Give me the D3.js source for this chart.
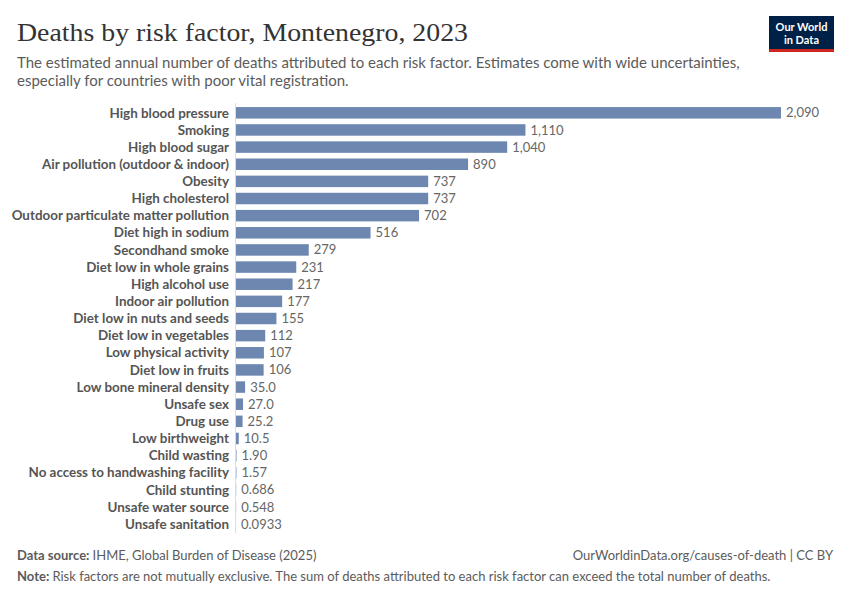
<!DOCTYPE html>
<html><head><meta charset="utf-8">
<script src="https://cdn.jsdelivr.net/npm/d3@7"></script>
<style>body{margin:0;background:#fff;} svg{display:block;}</style>
</head><body>
<script>
const categories = ["High blood pressure","Smoking","High blood sugar","Air pollution (outdoor & indoor)","Obesity","High cholesterol","Outdoor particulate matter pollution","Diet high in sodium","Secondhand smoke","Diet low in whole grains","High alcohol use","Indoor air pollution","Diet low in nuts and seeds","Diet low in vegetables","Low physical activity","Diet low in fruits","Low bone mineral density","Unsafe sex","Drug use","Low birthweight","Child wasting","No access to handwashing facility","Child stunting","Unsafe water source","Unsafe sanitation"];
const values = [2090,1110,1040,890,737,737,702,516,279,231,217,177,155,112,107,106,35.0,27.0,25.2,10.5,1.90,1.57,0.686,0.548,0.0933];
const valueLabels = ["2,090","1,110","1,040","890","737","737","702","516","279","231","217","177","155","112","107","106","35.0","27.0","25.2","10.5","1.90","1.57","0.686","0.548","0.0933"];

const W=850,H=600;
const svg=d3.select("body").append("svg").attr("width",W).attr("height",H);
const font="Lato, 'Noto Sans', sans-serif";

svg.append("text").attr("x",17).attr("y",41).text("Deaths by risk factor, Montenegro, 2023")
  .attr("font-family","'Liberation Serif', 'DejaVu Serif', serif").attr("font-size",25).attr("fill","#333")
  .attr("textLength",451).attr("lengthAdjust","spacingAndGlyphs");
const sub=["The estimated annual number of deaths attributed to each risk factor. Estimates come with wide uncertainties,","especially for countries with poor vital registration."];
sub.forEach((s,i)=>svg.append("text").attr("x",17).attr("y",68+i*18).text(s)
  .attr("font-family",font).attr("font-size",15).attr("fill","#5b5b5b"));

// logo
const lg=svg.append("g");
lg.append("rect").attr("x",769).attr("y",16).attr("width",65).attr("height",36).attr("fill","#002147");
lg.append("rect").attr("x",769).attr("y",49).attr("width",65).attr("height",3).attr("fill","#ce261e");
lg.append("text").attr("x",801.5).attr("y",30.5).attr("text-anchor","middle").text("Our World")
  .attr("font-family",font).attr("font-size",11).attr("fill","#fff").attr("font-weight",700);
lg.append("text").attr("x",801.5).attr("y",44).attr("text-anchor","middle").text("in Data")
  .attr("font-family",font).attr("font-size",11).attr("fill","#fff").attr("font-weight",700);

const x0=236;
const x=d3.scaleLinear().domain([0,2090]).range([x0,781]);
const y=d3.scaleBand().domain(categories).range([104.5,532.5]).paddingInner(0.33).paddingOuter(0.15);

svg.append("line").attr("x1",x0-0.5).attr("x2",x0-0.5).attr("y1",103).attr("y2",533)
  .attr("stroke","#ddd").attr("stroke-width",1);

const rows=svg.append("g").selectAll("g").data(categories).join("g");
rows.append("rect").attr("x",x0).attr("y",d=>y(d)).attr("height",y.bandwidth())
  .attr("width",(d,i)=>Math.max(0,x(values[i])-x0)).attr("fill","#6d87b0");
rows.append("text").attr("x",229).attr("y",d=>y(d)+y.bandwidth()/2).attr("dy","0.35em")
  .attr("text-anchor","end").text(d=>d).attr("font-family",font).attr("font-size",13.4)
  .attr("font-weight",700).attr("fill","#555");
rows.append("text").attr("x",(d,i)=>x(values[i])+5).attr("y",d=>y(d)+y.bandwidth()/2).attr("dy","0.35em")
  .text((d,i)=>valueLabels[i]).attr("font-family",font).attr("font-size",13).attr("fill","#666");

// footer
const f1=svg.append("text").attr("x",17).attr("y",560).attr("font-family",font).attr("font-size",13).attr("fill","#5b5b5b");
f1.append("tspan").attr("font-weight",700).text("Data source: ");
f1.append("tspan").text("IHME, Global Burden of Disease (2025)");
svg.append("text").attr("x",833).attr("y",560).attr("text-anchor","end").attr("font-family",font).attr("font-size",13).attr("fill","#5b5b5b")
  .text("OurWorldinData.org/causes-of-death | CC BY");
const f2=svg.append("text").attr("x",17).attr("y",581).attr("font-family",font).attr("font-size",13).attr("fill","#5b5b5b");
f2.append("tspan").attr("font-weight",700).text("Note: ");
f2.append("tspan").text("Risk factors are not mutually exclusive. The sum of deaths attributed to each risk factor can exceed the total number of deaths.");
</script>
</body></html>
